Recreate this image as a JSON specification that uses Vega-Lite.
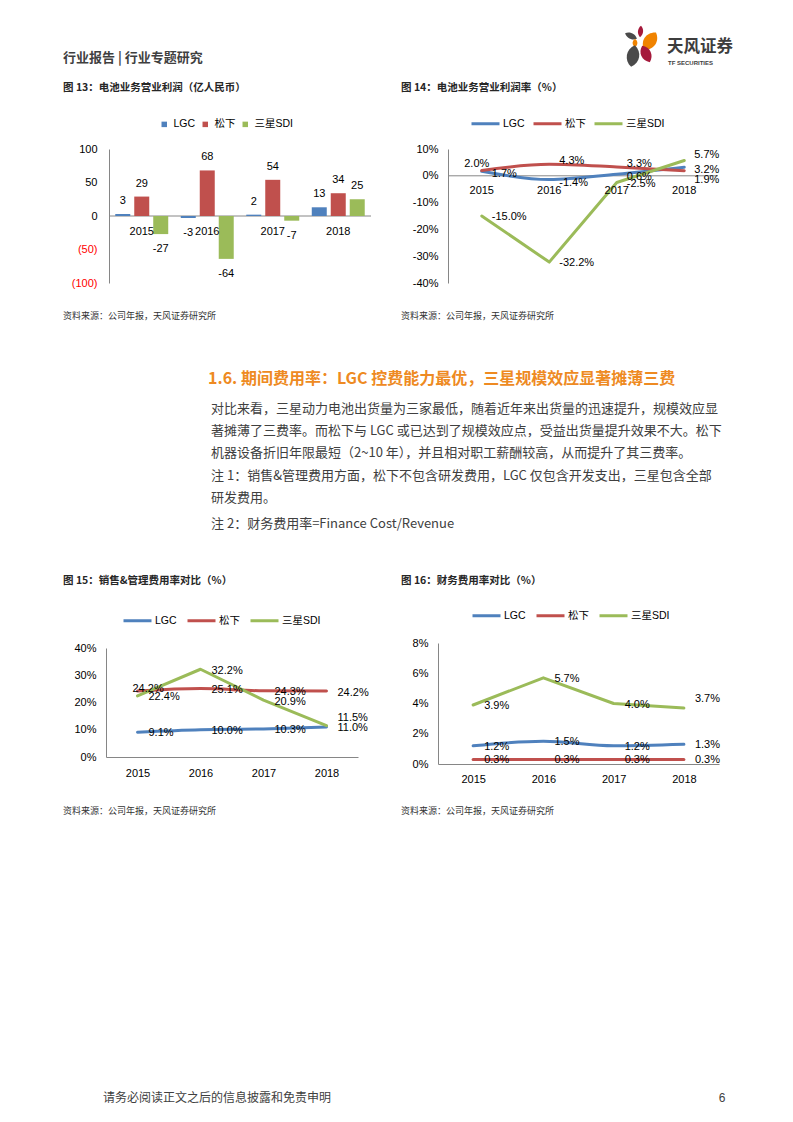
{
  "$schema": "https://vega.github.io/schema/vega-lite/v6.json",
  "padding": 0,
  "background": "#ffffff",
  "columns": 4,
  "spacing": 0,
  "bounds": "flush",
  "align": "each",
  "resolve": {"scale": {"color": "independent"}, "legend": {"color": "independent"}},
  "config": {
    "view": {"stroke": null},
    "font": "Liberation Sans, Noto Sans CJK SC",
    "locale": {"number": {"decimal": ".", "thousands": ",", "grouping": [3], "currency": ["", ""], "minus": "-"}},
    "axis": {"labelFont": "Liberation Sans, Noto Sans CJK SC", "labelFontSize": 11, "labelColor": "#000000", "domainColor": "#868686", "ticks": false, "grid": false, "labelOverlap": false},
    "legend": {"labelFont": "Liberation Sans, Noto Sans CJK SC", "labelFontSize": 10.5, "labelColor": "#000000", "padding": 0},
    "text": {"font": "Liberation Sans, Noto Sans CJK SC", "fontSize": 11, "color": "#000000", "baseline": "middle"}
  },
  "datasets": {
    "profit": [
      {"year": "2015", "series": "LGC", "value": 3},
      {"year": "2015", "series": "松下", "value": 29},
      {"year": "2015", "series": "三星SDI", "value": -27},
      {"year": "2016", "series": "LGC", "value": -3},
      {"year": "2016", "series": "松下", "value": 68},
      {"year": "2016", "series": "三星SDI", "value": -64},
      {"year": "2017", "series": "LGC", "value": 2},
      {"year": "2017", "series": "松下", "value": 54},
      {"year": "2017", "series": "三星SDI", "value": -7},
      {"year": "2018", "series": "LGC", "value": 13},
      {"year": "2018", "series": "松下", "value": 34},
      {"year": "2018", "series": "三星SDI", "value": 25}
    ],
    "margin": [
      {"year": "2015", "series": "LGC", "value": 0.017},
      {"year": "2016", "series": "LGC", "value": -0.014},
      {"year": "2017", "series": "LGC", "value": 0.006},
      {"year": "2018", "series": "LGC", "value": 0.032},
      {"year": "2015", "series": "松下", "value": 0.020},
      {"year": "2016", "series": "松下", "value": 0.043},
      {"year": "2017", "series": "松下", "value": 0.033},
      {"year": "2018", "series": "松下", "value": 0.019},
      {"year": "2015", "series": "三星SDI", "value": -0.150},
      {"year": "2016", "series": "三星SDI", "value": -0.322},
      {"year": "2017", "series": "三星SDI", "value": -0.025},
      {"year": "2018", "series": "三星SDI", "value": 0.057}
    ],
    "sga": [
      {"year": "2015", "series": "LGC", "value": 0.091},
      {"year": "2016", "series": "LGC", "value": 0.100},
      {"year": "2017", "series": "LGC", "value": 0.103},
      {"year": "2018", "series": "LGC", "value": 0.110},
      {"year": "2015", "series": "松下", "value": 0.242},
      {"year": "2016", "series": "松下", "value": 0.251},
      {"year": "2017", "series": "松下", "value": 0.243},
      {"year": "2018", "series": "松下", "value": 0.242},
      {"year": "2015", "series": "三星SDI", "value": 0.224},
      {"year": "2016", "series": "三星SDI", "value": 0.322},
      {"year": "2017", "series": "三星SDI", "value": 0.209},
      {"year": "2018", "series": "三星SDI", "value": 0.115}
    ],
    "fin": [
      {"year": "2015", "series": "LGC", "value": 0.012},
      {"year": "2016", "series": "LGC", "value": 0.015},
      {"year": "2017", "series": "LGC", "value": 0.012},
      {"year": "2018", "series": "LGC", "value": 0.013},
      {"year": "2015", "series": "松下", "value": 0.003},
      {"year": "2016", "series": "松下", "value": 0.003},
      {"year": "2017", "series": "松下", "value": 0.003},
      {"year": "2018", "series": "松下", "value": 0.003},
      {"year": "2015", "series": "三星SDI", "value": 0.039},
      {"year": "2016", "series": "三星SDI", "value": 0.057},
      {"year": "2017", "series": "三星SDI", "value": 0.040},
      {"year": "2018", "series": "三星SDI", "value": 0.037}
    ]
  },
  "concat": [
    {
      "width": 108,
      "height": 148,
      "data": {"values": [{}]},
      "layer": [
        {"mark": {"type": "text", "text": "行业报告 | 行业专题研究", "x": 62, "y": 57, "align": "left", "baseline": "middle", "font": "Noto Sans CJK SC", "fontSize": 13, "fontWeight": "bold", "color": "#3f3f3f"}, "encoding": {}},
        {"mark": {"type": "rule", "x": 62, "x2": 732, "y": 67, "y2": 67, "color": "#EE8A22", "strokeWidth": 2}, "encoding": {}},
        {"mark": {"type": "point", "shape": "M0,-1C0.6,-0.5,0.6,0.5,0,1C-0.6,0.5,-0.6,-0.5,0,-1Z", "x": 639.5, "y": 30.5, "size": 130, "angle": 5, "filled": true, "color": "#A5193B", "opacity": 1}, "encoding": {}},
        {"mark": {"type": "point", "shape": "M0,-1C0.6,-0.5,0.6,0.5,0,1C-0.6,0.5,-0.6,-0.5,0,-1Z", "x": 630, "y": 35, "size": 169, "angle": 115, "filled": true, "color": "#4A4A4A", "opacity": 1}, "encoding": {}},
        {"mark": {"type": "point", "shape": "M0,-1C0.8,-0.5,0.8,0.5,0,1C-0.8,0.5,-0.8,-0.5,0,-1Z", "x": 649, "y": 40, "size": 440, "angle": 35, "filled": true, "color": "#F08300", "opacity": 1}, "encoding": {}},
        {"mark": {"type": "point", "shape": "M0,-1C0.8,-0.5,0.8,0.5,0,1C-0.8,0.5,-0.8,-0.5,0,-1Z", "x": 634, "y": 42, "size": 64, "angle": 0, "filled": true, "color": "#F08300", "opacity": 1}, "encoding": {}},
        {"mark": {"type": "point", "shape": "M0,-1C0.75,-0.5,0.75,0.5,0,1C-0.75,0.5,-0.75,-0.5,0,-1Z", "x": 632, "y": 55, "size": 484, "angle": 10, "filled": true, "color": "#4A4A4A", "opacity": 1}, "encoding": {}},
        {"mark": {"type": "point", "shape": "M0,-1C0.75,-0.5,0.75,0.5,0,1C-0.75,0.5,-0.75,-0.5,0,-1Z", "x": 645, "y": 53, "size": 324, "angle": -25, "filled": true, "color": "#A5193B", "opacity": 1}, "encoding": {}},
        {"mark": {"type": "text", "text": "天风证券", "x": 666, "y": 46, "align": "left", "baseline": "middle", "font": "Noto Sans CJK SC", "fontSize": 16.5, "fontWeight": "bold", "color": "#3d3d3d"}, "encoding": {}},
        {"mark": {"type": "text", "text": "TF SECURITIES", "x": 667, "y": 62, "align": "left", "baseline": "middle", "font": "Liberation Sans", "fontSize": 6, "fontWeight": "bold", "color": "#3d3d3d"}, "encoding": {}},
        {"mark": {"type": "text", "text": "图 13：电池业务营业利润（亿人民币）", "x": 62, "y": 87, "align": "left", "baseline": "middle", "font": "Noto Sans CJK SC", "fontSize": 10.5, "fontWeight": "bold", "color": "#262626"}, "encoding": {}},
        {"mark": {"type": "text", "text": "图 14：电池业务营业利润率（%）", "x": 400, "y": 87, "align": "left", "baseline": "middle", "font": "Noto Sans CJK SC", "fontSize": 10.5, "fontWeight": "bold", "color": "#262626"}, "encoding": {}},
        {"mark": {"type": "rule", "x": 57, "x2": 376, "y": 96.5, "y2": 96.5, "color": "#EE8A22", "strokeWidth": 1.5}, "encoding": {}},
        {"mark": {"type": "rule", "x": 395, "x2": 727, "y": 96.5, "y2": 96.5, "color": "#EE8A22", "strokeWidth": 1.5}, "encoding": {}}
      ]
    },
    {"width": 262, "height": 148, "data": {"values": []}, "mark": "point"},
    {"width": 77, "height": 148, "data": {"values": []}, "mark": "point"},
    {"width": 271, "height": 148, "data": {"values": []}, "mark": "point"},
    {"width": 108, "height": 134, "data": {"values": []}, "mark": "point"},
    {
      "width": 262,
      "height": 134,
      "layer": [
        {"data": {"values": [{}]}, "mark": {"type": "rule", "color": "#868686"}, "encoding": {"y": {"datum": 0}}},
        {
          "data": {"name": "profit"},
          "mark": {"type": "bar"},
          "encoding": {
            "x": {"field": "year", "type": "nominal", "scale": {"paddingInner": 0, "paddingOuter": 0}, "axis": null},
            "xOffset": {"field": "series", "type": "nominal", "scale": {"domain": ["LGC", "松下", "三星SDI"], "paddingInner": 0.21, "paddingOuter": 0.33}},
            "y": {"field": "value", "type": "quantitative", "title": null, "scale": {"domain": [-100, 100]}, "axis": {"values": [-100, -50, 0, 50, 100], "tickCount": 20, "labelOverlap": false, "labelExpr": "datum.value < 0 ? '(' + abs(datum.value) + ')' : '' + datum.value", "labelColor": {"condition": {"test": "datum.value < 0", "value": "#FF0000"}, "value": "#000000"}, "labelPadding": 12}},
            "color": {"field": "series", "type": "nominal", "scale": {"domain": ["LGC", "松下", "三星SDI"], "range": ["#4F81BD", "#C0504D", "#9BBB59"]}, "legend": {"orient": "none", "legendX": 50, "legendY": -30, "direction": "horizontal", "title": null, "symbolType": "square", "symbolSize": 30, "symbolStrokeWidth": 0, "labelOffset": 4, "columnPadding": 4}}
          }
        },
        {
          "data": {"name": "profit"},
          "transform": [{"filter": "datum.value >= 0"}],
          "mark": {"type": "text", "dy": -13},
          "encoding": {
            "x": {"field": "year", "type": "nominal"},
            "xOffset": {"field": "series", "type": "nominal"},
            "y": {"field": "value", "type": "quantitative", "title": null},
            "text": {"field": "value", "type": "quantitative", "format": "d"}
          }
        },
        {
          "data": {"name": "profit"},
          "transform": [{"filter": "datum.value < 0"}],
          "mark": {"type": "text", "dy": 15},
          "encoding": {
            "x": {"field": "year", "type": "nominal"},
            "xOffset": {"field": "series", "type": "nominal"},
            "y": {"field": "value", "type": "quantitative", "title": null},
            "text": {"field": "value", "type": "quantitative", "format": "d"}
          }
        },
        {
          "data": {"name": "profit"},
          "transform": [{"filter": "datum.series == 'LGC'"}],
          "mark": {"type": "text", "dy": 16},
          "encoding": {
            "x": {"field": "year", "type": "nominal"},
            "y": {"datum": 0},
            "text": {"field": "year", "type": "nominal"}
          }
        }
      ]
    },
    {"width": 77, "height": 134, "data": {"values": []}, "mark": "point"},
    {
      "width": 270,
      "height": 134,
      "layer": [
        {"data": {"values": [{}]}, "mark": {"type": "rule", "color": "#868686"}, "encoding": {"y": {"datum": 0}}},
        {
          "data": {"name": "margin"},
          "transform": [{"filter": "datum.series != '三星SDI'"}],
          "mark": {"type": "line", "strokeWidth": 3, "interpolate": "monotone", "strokeCap": "round", "strokeJoin": "round"},
          "encoding": {
            "x": {"field": "year", "type": "ordinal", "scale": {"type": "point", "padding": 0.5}, "axis": null},
            "y": {"field": "value", "type": "quantitative", "title": null, "scale": {"domain": [-0.4, 0.1]}, "axis": {"values": [-0.4, -0.3, -0.2, -0.1, 0, 0.1], "tickCount": 20, "labelOverlap": false, "format": ".0%", "labelPadding": 10}},
            "color": {"field": "series", "type": "nominal", "scale": {"domain": ["LGC", "松下", "三星SDI"], "range": ["#4F81BD", "#C0504D", "#9BBB59"]}, "legend": {"orient": "none", "legendX": 22, "legendY": -41, "direction": "horizontal", "title": null, "symbolType": "stroke", "symbolSize": 784, "symbolStrokeWidth": 3, "labelOffset": 2, "columnPadding": 2}}
          }
        },
        {
          "data": {"name": "margin"},
          "transform": [{"filter": "datum.series == '三星SDI'"}],
          "mark": {"type": "line", "strokeWidth": 3, "strokeCap": "round", "strokeJoin": "round"},
          "encoding": {
            "x": {"field": "year", "type": "ordinal"},
            "y": {"field": "value", "type": "quantitative", "title": null},
            "color": {"field": "series", "type": "nominal"}
          }
        },
        {
          "data": {"name": "margin"},
          "transform": [{"filter": "datum.series == 'LGC'"}],
          "mark": {"type": "text", "align": "left", "dx": 10, "dy": 3},
          "encoding": {"x": {"field": "year", "type": "ordinal"}, "y": {"field": "value", "type": "quantitative", "title": null}, "text": {"field": "value", "type": "quantitative", "format": ".1%"}}
        },
        {
          "data": {"name": "margin"},
          "transform": [{"filter": "datum.series == '松下' && datum.year == '2015'"}],
          "mark": {"type": "text", "align": "center", "dx": -5, "dy": -6},
          "encoding": {"x": {"field": "year", "type": "ordinal"}, "y": {"field": "value", "type": "quantitative", "title": null}, "text": {"field": "value", "type": "quantitative", "format": ".1%"}}
        },
        {
          "data": {"name": "margin"},
          "transform": [{"filter": "datum.series == '松下' && (datum.year == '2016' || datum.year == '2017')"}],
          "mark": {"type": "text", "align": "left", "dx": 10, "dy": -3},
          "encoding": {"x": {"field": "year", "type": "ordinal"}, "y": {"field": "value", "type": "quantitative", "title": null}, "text": {"field": "value", "type": "quantitative", "format": ".1%"}}
        },
        {
          "data": {"name": "margin"},
          "transform": [{"filter": "datum.series == '松下' && datum.year == '2018'"}],
          "mark": {"type": "text", "align": "left", "dx": 10, "dy": 9},
          "encoding": {"x": {"field": "year", "type": "ordinal"}, "y": {"field": "value", "type": "quantitative", "title": null}, "text": {"field": "value", "type": "quantitative", "format": ".1%"}}
        },
        {
          "data": {"name": "margin"},
          "transform": [{"filter": "datum.series == '三星SDI' && datum.year != '2018'"}],
          "mark": {"type": "text", "align": "left", "dx": 10, "dy": 1},
          "encoding": {"x": {"field": "year", "type": "ordinal"}, "y": {"field": "value", "type": "quantitative", "title": null}, "text": {"field": "value", "type": "quantitative", "format": ".1%"}}
        },
        {
          "data": {"name": "margin"},
          "transform": [{"filter": "datum.series == '三星SDI' && datum.year == '2018'"}],
          "mark": {"type": "text", "align": "left", "dx": 10, "dy": -6},
          "encoding": {"x": {"field": "year", "type": "ordinal"}, "y": {"field": "value", "type": "quantitative", "title": null}, "text": {"field": "value", "type": "quantitative", "format": ".1%"}}
        },
        {
          "data": {"name": "margin"},
          "transform": [{"filter": "datum.series == 'LGC'"}],
          "mark": {"type": "text", "dy": 15},
          "encoding": {"x": {"field": "year", "type": "ordinal"}, "y": {"datum": 0}, "text": {"field": "year", "type": "nominal"}}
        }
      ]
    },
    {
      "width": 108,
      "height": 360,
      "data": {"values": [{}]},
      "layer": [
        {"mark": {"type": "rule", "x": 57, "x2": 376, "y": 23, "y2": 23, "color": "#EE8A22", "strokeWidth": 1.5}, "encoding": {}},
        {"mark": {"type": "rule", "x": 395, "x2": 727, "y": 23, "y2": 23, "color": "#EE8A22", "strokeWidth": 1.5}, "encoding": {}},
        {"mark": {"type": "text", "text": "资料来源：公司年报，天风证券研究所", "x": 62, "y": 33, "align": "left", "baseline": "middle", "font": "Noto Sans CJK SC", "fontSize": 9, "color": "#333333"}, "encoding": {}},
        {"mark": {"type": "text", "text": "资料来源：公司年报，天风证券研究所", "x": 400, "y": 33, "align": "left", "baseline": "middle", "font": "Noto Sans CJK SC", "fontSize": 9, "color": "#333333"}, "encoding": {}},
        {"mark": {"type": "text", "text": "1.6. 期间费用率：LGC 控费能力最优，三星规模效应显著摊薄三费", "x": 207, "y": 96, "align": "left", "baseline": "middle", "font": "Noto Sans CJK SC", "fontSize": 16, "fontWeight": "bold", "color": "#EE8A22"}, "encoding": {}},
        {"mark": {"type": "text", "text": "对比来看，三星动力电池出货量为三家最低，随着近年来出货量的迅速提升，规模效应显", "x": 210, "y": 126, "align": "left", "baseline": "middle", "font": "Noto Sans CJK SC", "fontSize": 13, "color": "#404040"}, "encoding": {}},
        {"mark": {"type": "text", "text": "著摊薄了三费率。而松下与 LGC 或已达到了规模效应点，受益出货量提升效果不大。松下", "x": 210, "y": 148, "align": "left", "baseline": "middle", "font": "Noto Sans CJK SC", "fontSize": 13, "color": "#404040"}, "encoding": {}},
        {"mark": {"type": "text", "text": "机器设备折旧年限最短（2~10 年），并且相对职工薪酬较高，从而提升了其三费率。", "x": 210, "y": 170, "align": "left", "baseline": "middle", "font": "Noto Sans CJK SC", "fontSize": 13, "color": "#404040"}, "encoding": {}},
        {"mark": {"type": "text", "text": "注 1：销售&管理费用方面，松下不包含研发费用，LGC 仅包含开发支出，三星包含全部", "x": 210, "y": 193, "align": "left", "baseline": "middle", "font": "Noto Sans CJK SC", "fontSize": 13, "color": "#404040"}, "encoding": {}},
        {"mark": {"type": "text", "text": "研发费用。", "x": 210, "y": 215, "align": "left", "baseline": "middle", "font": "Noto Sans CJK SC", "fontSize": 13, "color": "#404040"}, "encoding": {}},
        {"mark": {"type": "text", "text": "注 2：财务费用率=Finance  Cost/Revenue", "x": 210, "y": 241, "align": "left", "baseline": "middle", "font": "Noto Sans CJK SC", "fontSize": 13, "color": "#404040"}, "encoding": {}},
        {"mark": {"type": "text", "text": "图 15：销售&管理费用率对比（%）", "x": 62, "y": 298, "align": "left", "baseline": "middle", "font": "Noto Sans CJK SC", "fontSize": 10.5, "fontWeight": "bold", "color": "#262626"}, "encoding": {}},
        {"mark": {"type": "text", "text": "图 16：财务费用率对比（%）", "x": 400, "y": 298, "align": "left", "baseline": "middle", "font": "Noto Sans CJK SC", "fontSize": 10.5, "fontWeight": "bold", "color": "#262626"}, "encoding": {}},
        {"mark": {"type": "rule", "x": 57, "x2": 376, "y": 309, "y2": 309, "color": "#EE8A22", "strokeWidth": 1.5}, "encoding": {}},
        {"mark": {"type": "rule", "x": 395, "x2": 727, "y": 309, "y2": 309, "color": "#EE8A22", "strokeWidth": 1.5}, "encoding": {}}
      ]
    },
    {"width": 1, "height": 1, "data": {"values": []}, "mark": "point"},
    {"width": 1, "height": 1, "data": {"values": []}, "mark": "point"},
    {"width": 1, "height": 1, "data": {"values": []}, "mark": "point"},
    {"width": 108, "height": 121, "data": {"values": []}, "mark": "point"},
    {
      "width": 249,
      "height": 114,
      "data": {"name": "sga"},
      "layer": [
        {
          "transform": [{"filter": "datum.series != '三星SDI'"}],
          "mark": {"type": "line", "strokeWidth": 3, "interpolate": "monotone", "strokeCap": "round", "strokeJoin": "round"},
          "encoding": {
            "x": {"field": "year", "type": "ordinal", "title": null, "scale": {"type": "point", "padding": 0.5, "range": [-3, 249]}, "axis": {"labelAngle": 0, "labelPadding": 10}},
            "y": {"field": "value", "type": "quantitative", "title": null, "scale": {"domain": [0, 0.4], "range": [114, 5]}, "axis": {"values": [0, 0.1, 0.2, 0.3, 0.4], "tickCount": 20, "labelOverlap": false, "format": ".0%", "labelPadding": 10, "offset": 3}},
            "color": {"field": "series", "type": "nominal", "scale": {"domain": ["LGC", "松下", "三星SDI"], "range": ["#4F81BD", "#C0504D", "#9BBB59"]}, "legend": {"orient": "none", "legendX": 13, "legendY": -38, "direction": "horizontal", "title": null, "symbolType": "stroke", "symbolSize": 784, "symbolStrokeWidth": 3, "labelOffset": 2, "columnPadding": 4}}
          }
        },
        {
          "transform": [{"filter": "datum.series == '三星SDI'"}],
          "mark": {"type": "line", "strokeWidth": 3, "strokeCap": "round", "strokeJoin": "round"},
          "encoding": {
            "x": {"field": "year", "type": "ordinal", "title": null},
            "y": {"field": "value", "type": "quantitative", "title": null},
            "color": {"field": "series", "type": "nominal"}
          }
        },
        {
          "transform": [{"filter": "datum.series == 'LGC'"}],
          "mark": {"type": "text", "align": "left", "dx": 11, "dy": 1},
          "encoding": {"x": {"field": "year", "type": "ordinal", "title": null}, "y": {"field": "value", "type": "quantitative", "title": null}, "text": {"field": "value", "type": "quantitative", "format": ".1%"}}
        },
        {
          "transform": [{"filter": "datum.series == '松下' && datum.year == '2015'"}],
          "mark": {"type": "text", "align": "left", "dx": -5, "dy": -2},
          "encoding": {"x": {"field": "year", "type": "ordinal", "title": null}, "y": {"field": "value", "type": "quantitative", "title": null}, "text": {"field": "value", "type": "quantitative", "format": ".1%"}}
        },
        {
          "transform": [{"filter": "datum.series == '松下' && datum.year != '2015'"}],
          "mark": {"type": "text", "align": "left", "dx": 11, "dy": 1.5},
          "encoding": {"x": {"field": "year", "type": "ordinal", "title": null}, "y": {"field": "value", "type": "quantitative", "title": null}, "text": {"field": "value", "type": "quantitative", "format": ".1%"}}
        },
        {
          "transform": [{"filter": "datum.series == '三星SDI' && datum.year != '2018'"}],
          "mark": {"type": "text", "align": "left", "dx": 11, "dy": 1.5},
          "encoding": {"x": {"field": "year", "type": "ordinal", "title": null}, "y": {"field": "value", "type": "quantitative", "title": null}, "text": {"field": "value", "type": "quantitative", "format": ".1%"}}
        },
        {
          "transform": [{"filter": "datum.series == '三星SDI' && datum.year == '2018'"}],
          "mark": {"type": "text", "align": "left", "dx": 11, "dy": -8},
          "encoding": {"x": {"field": "year", "type": "ordinal", "title": null}, "y": {"field": "value", "type": "quantitative", "title": null}, "text": {"field": "value", "type": "quantitative", "format": ".1%"}}
        }
      ]
    },
    {"width": 77, "height": 121, "data": {"values": []}, "mark": "point"},
    {
      "width": 271,
      "height": 121,
      "data": {"name": "fin"},
      "layer": [
        {
          "transform": [{"filter": "datum.series != '三星SDI'"}],
          "mark": {"type": "line", "strokeWidth": 3, "interpolate": "monotone", "strokeCap": "round", "strokeJoin": "round"},
          "encoding": {
            "x": {"field": "year", "type": "ordinal", "title": null, "scale": {"type": "point", "padding": 0.5, "range": [-10, 271]}, "axis": {"labelAngle": 0, "labelPadding": 9}},
            "y": {"field": "value", "type": "quantitative", "title": null, "scale": {"domain": [0, 0.08]}, "axis": {"values": [0, 0.02, 0.04, 0.06, 0.08], "tickCount": 20, "labelOverlap": false, "format": ".0%", "labelPadding": 10, "offset": 10}},
            "color": {"field": "series", "type": "nominal", "scale": {"domain": ["LGC", "松下", "三星SDI"], "range": ["#4F81BD", "#C0504D", "#9BBB59"]}, "legend": {"orient": "none", "legendX": 23, "legendY": -43, "direction": "horizontal", "title": null, "symbolType": "stroke", "symbolSize": 784, "symbolStrokeWidth": 3, "labelOffset": 2, "columnPadding": 4}}
          }
        },
        {
          "transform": [{"filter": "datum.series == '三星SDI'"}],
          "mark": {"type": "line", "strokeWidth": 3, "strokeCap": "round", "strokeJoin": "round"},
          "encoding": {
            "x": {"field": "year", "type": "ordinal", "title": null},
            "y": {"field": "value", "type": "quantitative", "title": null},
            "color": {"field": "series", "type": "nominal"}
          }
        },
        {
          "transform": [{"filter": "datum.series != '三星SDI'"}],
          "mark": {"type": "text", "align": "left", "dx": 11, "dy": 1},
          "encoding": {"x": {"field": "year", "type": "ordinal", "title": null}, "y": {"field": "value", "type": "quantitative", "title": null}, "text": {"field": "value", "type": "quantitative", "format": ".1%"}}
        },
        {
          "transform": [{"filter": "datum.series == '三星SDI' && datum.year != '2018'"}],
          "mark": {"type": "text", "align": "left", "dx": 11, "dy": 1},
          "encoding": {"x": {"field": "year", "type": "ordinal", "title": null}, "y": {"field": "value", "type": "quantitative", "title": null}, "text": {"field": "value", "type": "quantitative", "format": ".1%"}}
        },
        {
          "transform": [{"filter": "datum.series == '三星SDI' && datum.year == '2018'"}],
          "mark": {"type": "text", "align": "left", "dx": 11, "dy": -9},
          "encoding": {"x": {"field": "year", "type": "ordinal", "title": null}, "y": {"field": "value", "type": "quantitative", "title": null}, "text": {"field": "value", "type": "quantitative", "format": ".1%"}}
        }
      ]
    },
    {
      "width": 108,
      "height": 359,
      "data": {"values": [{}]},
      "layer": [
        {"mark": {"type": "rule", "x": 57, "x2": 376, "y": 36, "y2": 36, "color": "#EE8A22", "strokeWidth": 1.5}, "encoding": {}},
        {"mark": {"type": "rule", "x": 395, "x2": 727, "y": 36, "y2": 36, "color": "#EE8A22", "strokeWidth": 1.5}, "encoding": {}},
        {"mark": {"type": "text", "text": "资料来源：公司年报，天风证券研究所", "x": 62, "y": 47, "align": "left", "baseline": "middle", "font": "Noto Sans CJK SC", "fontSize": 9, "color": "#333333"}, "encoding": {}},
        {"mark": {"type": "text", "text": "资料来源：公司年报，天风证券研究所", "x": 400, "y": 47, "align": "left", "baseline": "middle", "font": "Noto Sans CJK SC", "fontSize": 9, "color": "#333333"}, "encoding": {}},
        {"mark": {"type": "rule", "x": 62, "x2": 732, "y": 322, "y2": 322, "color": "#EE8A22", "strokeWidth": 2}, "encoding": {}},
        {"mark": {"type": "text", "text": "请务必阅读正文之后的信息披露和免责申明", "x": 102, "y": 334, "align": "left", "baseline": "middle", "font": "Noto Sans CJK SC", "fontSize": 12, "color": "#404040"}, "encoding": {}},
        {"mark": {"type": "text", "text": "6", "x": 721, "y": 334, "align": "center", "baseline": "middle", "font": "Liberation Sans", "fontSize": 12, "color": "#404040"}, "encoding": {}}
      ]
    },
    {"width": 1, "height": 1, "data": {"values": []}, "mark": "point"},
    {"width": 1, "height": 1, "data": {"values": []}, "mark": "point"},
    {"width": 1, "height": 1, "data": {"values": []}, "mark": "point"}
  ]
}
